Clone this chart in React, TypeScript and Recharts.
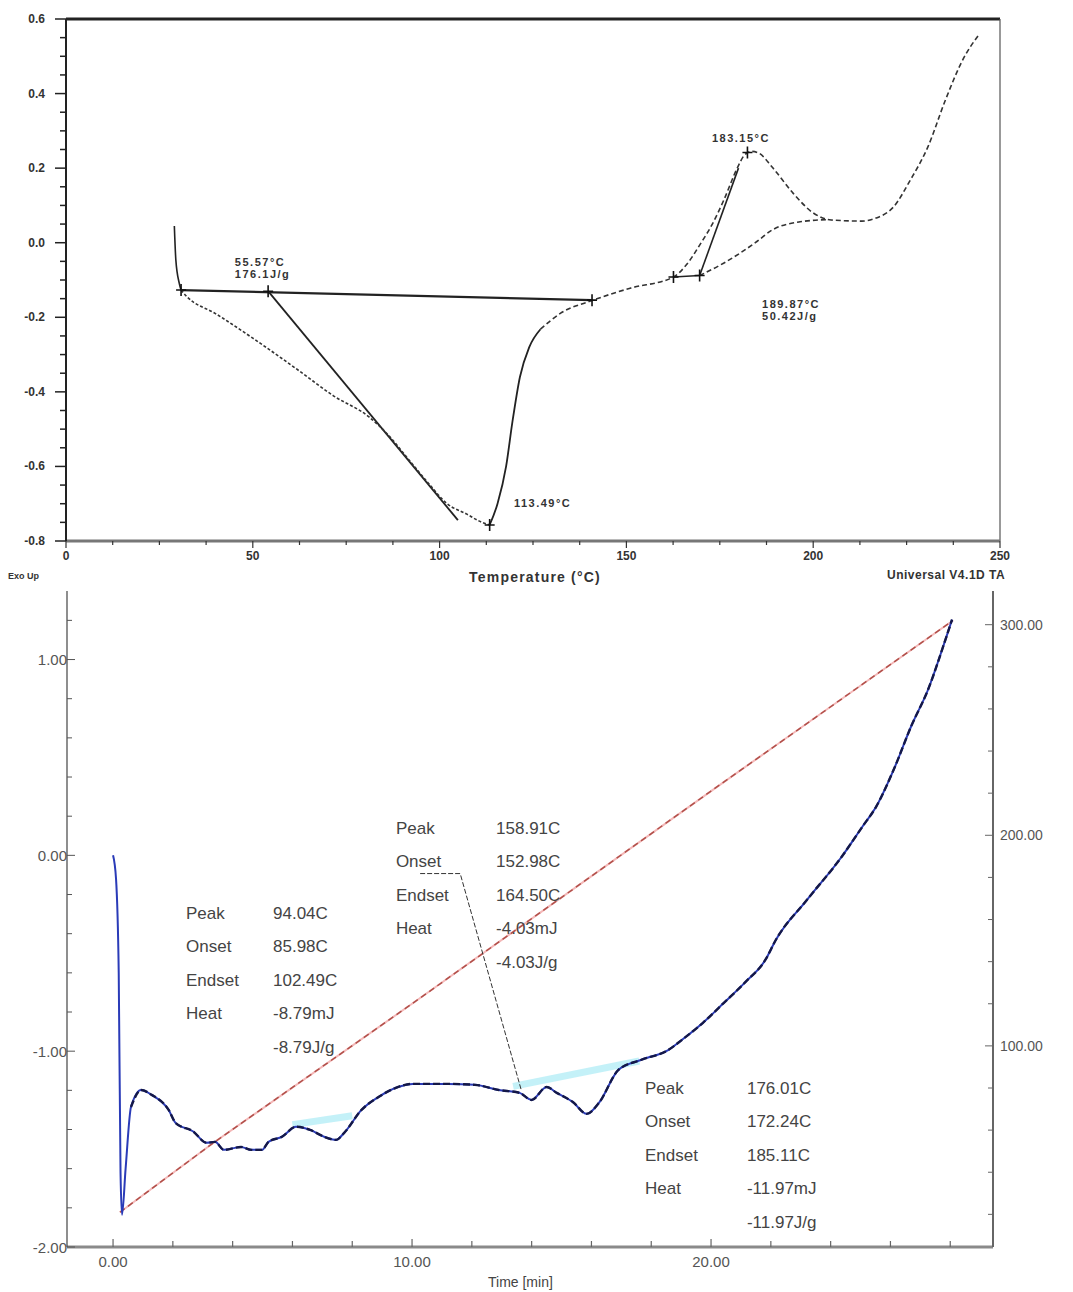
import React from 'react';
import { ComposedChart, Line, Scatter, XAxis, YAxis, ReferenceLine } from 'recharts';

const FONT = '"Liberation Sans", Arial, Helvetica, sans-serif';

// ================= TOP CHART: heat flow vs temperature =================
const topXTicks = [0, 12.5, 25, 37.5, 50, 62.5, 75, 87.5, 100, 112.5, 125, 137.5, 150, 162.5, 175, 187.5, 200, 212.5, 225, 237.5, 250];
const topXMajor = [0, 50, 100, 150, 200, 250];
const topYTicks = [-0.8, -0.75, -0.7, -0.65, -0.6, -0.55, -0.5, -0.45, -0.4, -0.35, -0.3, -0.25, -0.2, -0.15, -0.1, -0.05, 0, 0.05, 0.1, 0.15, 0.2, 0.25, 0.3, 0.35, 0.4, 0.45, 0.5, 0.55, 0.6];
const topYMajor = [-0.8, -0.6, -0.4, -0.2, 0, 0.2, 0.4, 0.6];

const topStart = [
  { t: 29.0, v: 0.045 }, { t: 29.4, v: -0.046 }, { t: 30.3, v: -0.108 }, { t: 30.8, v: -0.127 },
];
const topCurveLeft = [
  { t: 30.8, v: -0.127 }, { t: 32.4, v: -0.145 }, { t: 40, v: -0.19 }, { t: 50, v: -0.256 },
  { t: 62.6, v: -0.345 }, { t: 71.5, v: -0.41 }, { t: 81.2, v: -0.468 }, { t: 86, v: -0.513 },
  { t: 92, v: -0.585 }, { t: 97, v: -0.645 }, { t: 102, v: -0.7 }, { t: 107.3, v: -0.728 },
  { t: 110.5, v: -0.746 }, { t: 113.4, v: -0.757 },
];
const topCurveMid = [
  { t: 113.4, v: -0.757 }, { t: 115.5, v: -0.7 }, { t: 117.8, v: -0.6 }, { t: 119.5, v: -0.48 },
  { t: 121.5, v: -0.36 }, { t: 124, v: -0.28 }, { t: 127, v: -0.232 },
];
const topCurveTail = [
  { t: 127, v: -0.232 }, { t: 132.4, v: -0.189 }, { t: 140.8, v: -0.155 }, { t: 151, v: -0.122 },
  { t: 162.6, v: -0.092 }, { t: 166, v: -0.06 }, { t: 170, v: 0.0 }, { t: 173, v: 0.05 },
  { t: 176.1, v: 0.115 }, { t: 179.8, v: 0.203 }, { t: 181.6, v: 0.235 }, { t: 183.5, v: 0.245 },
  { t: 185.5, v: 0.24 }, { t: 189, v: 0.203 }, { t: 194.6, v: 0.133 }, { t: 200, v: 0.08 },
  { t: 204.8, v: 0.061 }, { t: 213, v: 0.058 }, { t: 216.8, v: 0.066 }, { t: 221.5, v: 0.096 },
  { t: 226, v: 0.168 }, { t: 230.7, v: 0.257 }, { t: 235.4, v: 0.383 }, { t: 240, v: 0.49 },
  { t: 244.5, v: 0.56 },
];
const endoBaseline = [{ t: 30.8, v: -0.127 }, { t: 140.8, v: -0.154 }];
const endoTangent = [{ t: 54.1, v: -0.13 }, { t: 104.9, v: -0.744 }];
const exoBaselineFlat = [{ t: 162.6, v: -0.092 }, { t: 169.6, v: -0.088 }];
const exoTangent = [{ t: 169.6, v: -0.088 }, { t: 180, v: 0.2 }];
const exoBaselineSig = [
  { t: 169.6, v: -0.088 }, { t: 176, v: -0.055 }, { t: 184.5, v: 0.0 }, { t: 189, v: 0.034 },
  { t: 196.5, v: 0.056 }, { t: 204, v: 0.062 },
];
const topMarkers = [
  { t: 30.8, v: -0.127 }, { t: 54.1, v: -0.13 }, { t: 140.8, v: -0.154 }, { t: 113.4, v: -0.757 },
  { t: 162.6, v: -0.092 }, { t: 169.6, v: -0.088 }, { t: 182.4, v: 0.242 },
];
const topNotes = [
  { t: 45.2, v: -0.052, lines: ['55.57°C', '176.1J/g'] },
  { t: 172.9, v: 0.281, lines: ['183.15°C'] },
  { t: 119.9, v: -0.698, lines: ['113.49°C'] },
  { t: 186.3, v: -0.164, lines: ['189.87°C', '50.42J/g'] },
];

// ================= BOTTOM CHART: heat flow & temperature vs time =================
const botXTicks = [0, 2, 4, 6, 8, 10, 12, 14, 16, 18, 20, 22, 24, 26, 28];
const botXMajor = [0, 10, 20];
const botLeftTicks = [-2, -1.8, -1.6, -1.4, -1.2, -1, -0.8, -0.6, -0.4, -0.2, 0, 0.2, 0.4, 0.6, 0.8, 1, 1.2];
const botLeftMajor = [-2, -1, 0, 1];
const botRightTicks = [20, 40, 60, 80, 100, 120, 140, 160, 180, 200, 220, 240, 260, 280, 300];
const botRightMajor = [100, 200, 300];

const dscCurve = [
  { t: 0.0, v: 0.0 }, { t: 0.1, v: -0.12 }, { t: 0.19, v: -0.6 }, { t: 0.25, v: -1.62 },
  { t: 0.3, v: -1.836 }, { t: 0.42, v: -1.6 }, { t: 0.6, v: -1.285 }, { t: 0.94, v: -1.198 },
  { t: 1.29, v: -1.223 }, { t: 1.86, v: -1.3 }, { t: 2.09, v: -1.366 }, { t: 2.68, v: -1.41 },
  { t: 3.13, v: -1.468 }, { t: 3.41, v: -1.463 }, { t: 3.71, v: -1.504 }, { t: 4.28, v: -1.489 },
  { t: 4.62, v: -1.504 }, { t: 4.98, v: -1.504 }, { t: 5.2, v: -1.463 }, { t: 5.65, v: -1.437 },
  { t: 6.12, v: -1.386 }, { t: 6.59, v: -1.402 }, { t: 7.06, v: -1.437 }, { t: 7.46, v: -1.453 },
  { t: 7.73, v: -1.417 }, { t: 8.31, v: -1.3 }, { t: 8.89, v: -1.233 }, { t: 9.46, v: -1.187 },
  { t: 10.03, v: -1.167 }, { t: 11.2, v: -1.167 }, { t: 12.1, v: -1.172 }, { t: 12.9, v: -1.198 },
  { t: 13.6, v: -1.213 }, { t: 14.0, v: -1.249 }, { t: 14.5, v: -1.183 }, { t: 14.84, v: -1.213 },
  { t: 15.38, v: -1.26 }, { t: 15.84, v: -1.32 }, { t: 16.25, v: -1.264 }, { t: 16.9, v: -1.096 },
  { t: 17.65, v: -1.045 }, { t: 18.58, v: -0.993 }, { t: 19.03, v: -0.942 }, { t: 19.73, v: -0.855 },
  { t: 20.43, v: -0.753 }, { t: 21.13, v: -0.65 }, { t: 21.82, v: -0.533 }, { t: 22.17, v: -0.431 },
  { t: 23.21, v: -0.227 }, { t: 24.37, v: -0.007 }, { t: 25.06, v: 0.146 }, { t: 25.52, v: 0.248 },
  { t: 26.11, v: 0.438 }, { t: 26.69, v: 0.658 }, { t: 27.26, v: 0.847 }, { t: 27.84, v: 1.102 },
  { t: 28.06, v: 1.204 },
];
const dscOverlay = dscCurve.filter((p) => p.t >= 0.6);
const tempCurve = [
  { t: 0.23, T: 21 }, { t: 3.36, T: 54 }, { t: 10, T: 120 }, { t: 20, T: 221 }, { t: 28.09, T: 302 },
];
const baselineA = [{ t: 6.0, v: -1.375 }, { t: 8.0, v: -1.33 }];
const baselineB = [{ t: 13.38, v: -1.18 }, { t: 17.6, v: -1.05 }];
const leader = [{ t: 10.27, v: -0.093 }, { t: 11.61, v: -0.093 }, { t: 13.65, v: -1.197 }];

const noteNames = [
  { t: 2.44, v: -0.293, lines: ['Peak', 'Onset', 'Endset', 'Heat'] },
  { t: 9.46, v: 0.1415, lines: ['Peak', 'Onset', 'Endset', 'Heat'] },
  { t: 17.79, v: -1.187, lines: ['Peak', 'Onset', 'Endset', 'Heat'] },
];
const noteValues = [
  { t: 5.35, v: -0.293, lines: ['94.04C', '85.98C', '102.49C', '-8.79mJ', '-8.79J/g'] },
  { t: 12.81, v: 0.1415, lines: ['158.91C', '152.98C', '164.50C', '-4.03mJ', '-4.03J/g'] },
  { t: 21.2, v: -1.187, lines: ['176.01C', '172.24C', '185.11C', '-11.97mJ', '-11.97J/g'] },
];

// ================= helpers =================
const isMajor = (v: number, majors: number[]) => majors.some((m) => Math.abs(m - v) < 1e-9);

const TopYTick = (p: any) => {
  const v = p.payload.value;
  const major = isMajor(v, topYMajor);
  return (
    <g>
      <line x1={p.x - (major ? 11 : 6)} x2={p.x} y1={p.y} y2={p.y} stroke="#222" strokeWidth={1.5} />
      {major && (
        <text x={p.x - 21} y={p.y} textAnchor="end" dominantBaseline="central" fontSize={12}
          fontWeight="bold" fill="#333" fontFamily={FONT}>{v.toFixed(1)}</text>
      )}
    </g>
  );
};
const TopXTick = (p: any) => {
  const v = p.payload.value;
  const major = isMajor(v, topXMajor);
  return (
    <g>
      <line x1={p.x} x2={p.x} y1={p.y} y2={p.y + (major ? 7 : 4)} stroke="#333" strokeWidth={1.2} />
      {major && (
        <text x={p.x} y={p.y + 19} textAnchor="middle" fontSize={12} fontWeight="bold" fill="#333"
          fontFamily={FONT}>{String(v)}</text>
      )}
    </g>
  );
};
const BotLeftTick = (p: any) => {
  const v = p.payload.value;
  const major = isMajor(v, botLeftMajor);
  return (
    <g>
      <line x1={p.x} x2={p.x + (major ? 8 : 5)} y1={p.y} y2={p.y} stroke="#555" strokeWidth={1} />
      {major && (
        <text x={p.x} y={p.y} textAnchor="end" dominantBaseline="central" fontSize={15} fill="#555"
          fontFamily={FONT}>{v.toFixed(2)}</text>
      )}
    </g>
  );
};
const BotRightTick = (p: any) => {
  const v = p.payload.value;
  const major = isMajor(v, botRightMajor);
  return (
    <g>
      <line x1={p.x - (major ? 8 : 5)} x2={p.x} y1={p.y} y2={p.y} stroke="#666" strokeWidth={1} />
      {major && (
        <text x={p.x + 7} y={p.y} textAnchor="start" dominantBaseline="central" fontSize={14}
          fill="#555" fontFamily={FONT}>{v.toFixed(2)}</text>
      )}
    </g>
  );
};
const BotXTick = (p: any) => {
  const v = p.payload.value;
  const major = isMajor(v, botXMajor);
  return (
    <g>
      <line x1={p.x} x2={p.x} y1={p.y - (major ? 8 : 6)} y2={p.y} stroke="#666" strokeWidth={1.2} />
      {major && (
        <text x={p.x} y={p.y + 20} textAnchor="middle" fontSize={15} fill="#555"
          fontFamily={FONT}>{v.toFixed(2)}</text>
      )}
    </g>
  );
};

const CrossMark = (p: any) => (
  <path d={`M${p.cx - 5},${p.cy}h10M${p.cx},${p.cy - 6}v12`} stroke="#111" strokeWidth={1.6} fill="none" />
);
const TopNote = (p: any) => (
  <text x={p.cx} y={p.cy} fontSize={11} fontWeight="bold" fill="#333" letterSpacing={1.5}
    dominantBaseline="central" fontFamily={FONT}>
    {p.payload.lines.map((l: string, i: number) => (
      <tspan key={i} x={p.cx} dy={i === 0 ? 0 : 12}>{l}</tspan>
    ))}
  </text>
);
const BotNote = (p: any) => (
  <text x={p.cx} y={p.cy} fontSize={17} fill="#444" dominantBaseline="central" fontFamily={FONT}>
    {p.payload.lines.map((l: string, i: number) => (
      <tspan key={i} x={p.cx} dy={i === 0 ? 0 : 33.5}>{l}</tspan>
    ))}
  </text>
);

const lineCommon = { dot: false, activeDot: false, isAnimationActive: false, legendType: 'none' as const };

export default function App() {
  return (
    <div style={{ position: 'absolute', left: 0, top: 0, width: 1073, height: 1292, background: '#fff', fontFamily: FONT }}>
      {/* ---------- top chart ---------- */}
      <div style={{ position: 'absolute', left: 0, top: 0 }}>
        <ComposedChart width={1073} height={580} margin={{ top: 19, right: 73, bottom: 0, left: 0 }}>
          <XAxis type="number" dataKey="t" domain={[0, 250]} allowDataOverflow ticks={topXTicks} interval={0}
            height={39} tickSize={0} tickMargin={0} tickLine={false} tick={TopXTick}
            axisLine={{ stroke: '#777', strokeWidth: 3 }} />
          <YAxis type="number" dataKey="v" domain={[-0.8, 0.6]} allowDataOverflow ticks={topYTicks} interval={0}
            width={66} tickSize={0} tickMargin={0} tickLine={false} tick={TopYTick}
            axisLine={{ stroke: '#222', strokeWidth: 2 }} />
          <ReferenceLine y={0.6} stroke="#222" strokeWidth={3} />
          <ReferenceLine x={250} stroke="#555" strokeWidth={1.2} />
          <Line {...lineCommon} data={endoBaseline} dataKey="v" type="linear" stroke="#222" strokeWidth={2.2} />
          <Line {...lineCommon} data={endoTangent} dataKey="v" type="linear" stroke="#222" strokeWidth={1.8} />
          <Line {...lineCommon} data={exoBaselineFlat} dataKey="v" type="linear" stroke="#222" strokeWidth={1.6} />
          <Line {...lineCommon} data={exoTangent} dataKey="v" type="linear" stroke="#222" strokeWidth={1.6} />
          <Line {...lineCommon} data={exoBaselineSig} dataKey="v" type="monotone" stroke="#333" strokeWidth={1.6} strokeDasharray="5 3" />
          <Line {...lineCommon} data={topStart} dataKey="v" type="monotone" stroke="#222" strokeWidth={1.6} />
          <Line {...lineCommon} data={topCurveLeft} dataKey="v" type="monotone" stroke="#333" strokeWidth={1.6} strokeDasharray="3 2" />
          <Line {...lineCommon} data={topCurveMid} dataKey="v" type="monotone" stroke="#222" strokeWidth={1.8} />
          <Line {...lineCommon} data={topCurveTail} dataKey="v" type="monotone" stroke="#333" strokeWidth={1.6} strokeDasharray="5 3" />
          <Scatter data={topMarkers} dataKey="v" shape={CrossMark} isAnimationActive={false} legendType="none" />
          <Scatter data={topNotes} dataKey="v" shape={TopNote} isAnimationActive={false} legendType="none" />
        </ComposedChart>
      </div>
      <div style={{ position: 'absolute', left: 8, top: 571, fontSize: 9, fontWeight: 'bold', color: '#333' }}>Exo Up</div>
      <div style={{ position: 'absolute', left: 0, width: 1070, top: 569, textAlign: 'center', fontSize: 14, fontWeight: 'bold', letterSpacing: 1.2, color: '#333' }}>Temperature (°C)</div>
      <div style={{ position: 'absolute', left: 887, top: 568, fontSize: 12, fontWeight: 'bold', letterSpacing: 0.5, color: '#333' }}>Universal V4.1D TA</div>

      {/* ---------- bottom chart ---------- */}
      <div style={{ position: 'absolute', left: 0, top: 560 }}>
        <ComposedChart width={1073} height={732} margin={{ top: 31, right: 0, bottom: 0, left: 0 }}>
          <XAxis type="number" dataKey="t" domain={[-1.54, 29.43]} allowDataOverflow ticks={botXTicks} interval={0}
            height={45} tickSize={0} tickMargin={0} tickLine={false} tick={BotXTick}
            axisLine={{ stroke: '#8a8a8a', strokeWidth: 3 }} />
          <YAxis yAxisId="dsc" orientation="left" type="number" dataKey="v" domain={[-2, 1.35]} allowDataOverflow
            ticks={botLeftTicks} interval={0} width={67} tickSize={0} tickMargin={0} tickLine={false}
            tick={BotLeftTick} axisLine={{ stroke: '#444', strokeWidth: 1.2 }} />
          <YAxis yAxisId="temp" orientation="right" type="number" dataKey="T" domain={[4.5, 316]} allowDataOverflow
            ticks={botRightTicks} interval={0} width={80} tickSize={0} tickMargin={0} tickLine={false}
            tick={BotRightTick} axisLine={{ stroke: '#666', strokeWidth: 2 }} />
          <Line {...lineCommon} yAxisId="dsc" data={baselineA} dataKey="v" type="linear" stroke="#b5eef6" strokeWidth={7} strokeOpacity={0.8} />
          <Line {...lineCommon} yAxisId="dsc" data={baselineB} dataKey="v" type="linear" stroke="#b5eef6" strokeWidth={7} strokeOpacity={0.8} />
          <Line {...lineCommon} yAxisId="temp" data={tempCurve} dataKey="T" type="linear" stroke="#f4b8b8" strokeWidth={2} />
          <Line {...lineCommon} yAxisId="temp" data={tempCurve} dataKey="T" type="linear" stroke="#b0504a" strokeWidth={1.5} strokeDasharray="6 4" />
          <Line {...lineCommon} yAxisId="dsc" data={dscCurve} dataKey="v" type="monotone" stroke="#2a3bb8" strokeWidth={2} />
          <Line {...lineCommon} yAxisId="dsc" data={dscOverlay} dataKey="v" type="monotone" stroke="#141848" strokeWidth={2.4} strokeDasharray="7 3" />
          <Line {...lineCommon} yAxisId="dsc" data={leader} dataKey="v" type="linear" stroke="#333" strokeWidth={1} strokeDasharray="5 2" />
          <Scatter yAxisId="dsc" data={noteNames} dataKey="v" shape={BotNote} isAnimationActive={false} legendType="none" />
          <Scatter yAxisId="dsc" data={noteValues} dataKey="v" shape={BotNote} isAnimationActive={false} legendType="none" />
        </ComposedChart>
      </div>
      <div style={{ position: 'absolute', left: 488, top: 1274, fontSize: 14, color: '#444' }}>Time [min]</div>
    </div>
  );
}
